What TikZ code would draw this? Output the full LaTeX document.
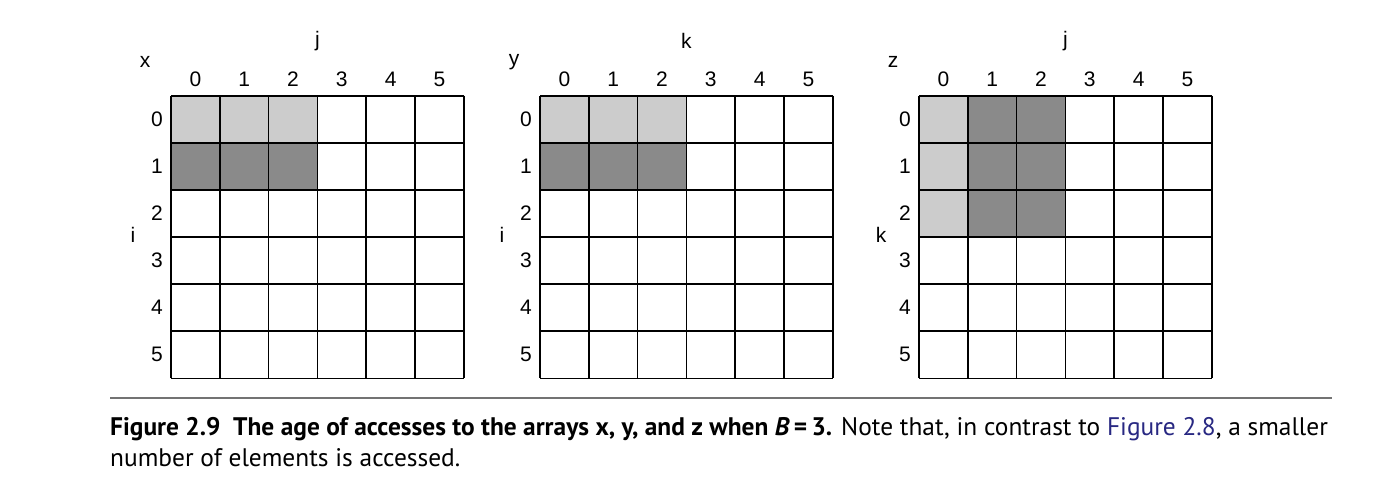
\documentclass[tikz,border=0pt]{standalone}
\usepackage{fontspec}
\setmainfont{Liberation Sans}
\newfontfamily\capfont{PT Sans}
\definecolor{lightcell}{gray}{0.80}
\definecolor{darkcell}{gray}{0.54}
\definecolor{figlink}{RGB}{40,40,130}
\definecolor{rulegray}{gray}{0.45}

\begin{document}
\begin{tikzpicture}[
        x=1pt, y=-1pt,
        lbl/.style={font=\fontsize{21}{24}\selectfont, inner sep=0pt},
        gridline/.style={line width=1.6pt, black},
        light/.style={fill=lightcell},
        dark/.style={fill=darkcell}
    ]
        \useasboundingbox (0,0) rectangle (1382,496);
        % shaded cells
        \foreach \gx in {171, 540} {
            \foreach \c in {0,1,2} {
                \fill[light] (\gx+\c*48.8, 95.7) rectangle ++(48.8, 47.1);
                \fill[dark]  (\gx+\c*48.8, 142.8) rectangle ++(48.8, 47.1);
            }
        }
        \foreach \r in {0,1,2} {
            \fill[light] (919, 95.7+\r*47.1) rectangle ++(48.8, 47.1);
            \fill[dark]  (967.8, 95.7+\r*47.1) rectangle ++(97.6, 47.1);
        }
        % grids and labels
        \foreach \gx/\nm/\top/\side in {171/x/j/i, 540/y/k/i, 919/z/j/k} {
            \foreach \n in {0,...,6} {
                \draw[gridline] (\gx+\n*48.8, 95.7) -- (\gx+\n*48.8, 378.3);
                \draw[gridline] (\gx, 95.7+\n*47.1) -- (\gx+292.8, 95.7+\n*47.1);
            }
            \foreach \n in {0,...,5} {
                \node[lbl] (\nm-col\n) at (\gx+24.4+\n*48.8, 79) {\n};
                \node[lbl] (\nm-row\n) at (\gx-14, 119.2+\n*47.1) {\n};
            }
            \node[lbl] (\nm-name) at (\gx-26, 62) {\nm};
            \node[lbl] (\nm-top)  at (\gx+146.4, 41) {\top};
            \node[lbl] (\nm-side) at (\gx-38, 235) {\side};
        }
        % caption
        \draw[rulegray, line width=1.6pt] (110, 397.7) -- (1332, 397.7);
        \node[anchor=base west, inner sep=0pt, align=left,
              font=\capfont\fontsize{25.4}{31}\selectfont] (caption) at (110, 466)
            {\textbf{Figure 2.9\enspace The age of accesses to the arrays x, y, and z when \textit{B}\,=\,3.} Note that, in contrast to \textcolor{figlink}{Figure 2.8}, a smaller\\
             number of elements is accessed.};
    \end{tikzpicture}
\end{document}
